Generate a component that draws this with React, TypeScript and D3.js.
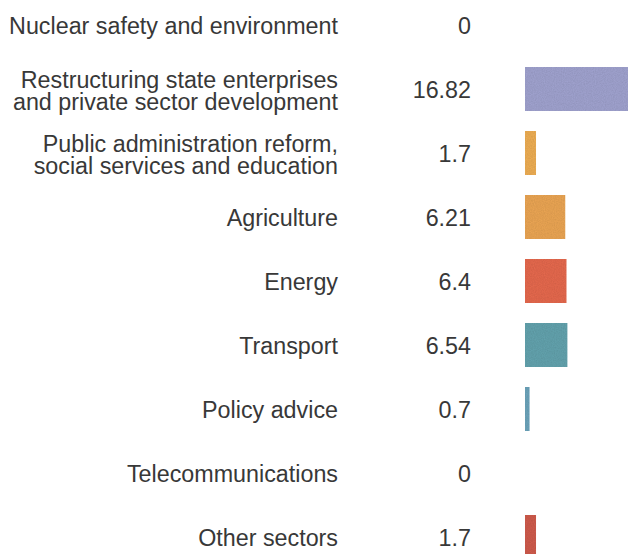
import React, { useEffect, useRef } from "react";
import * as d3 from "d3";

const sectors = [
  ["Nuclear safety and environment"],
  ["Restructuring state enterprises", "and private sector development"],
  ["Public administration reform,", "social services and education"],
  ["Agriculture"],
  ["Energy"],
  ["Transport"],
  ["Policy advice"],
  ["Telecommunications"],
  ["Other sectors"],
];
const values = [0, 16.82, 1.7, 6.21, 6.4, 6.54, 0.7, 0, 1.7];
const valueLabels = ["0", "16.82", "1.7", "6.21", "6.4", "6.54", "0.7", "0", "1.7"];
const colors = [
  "#9ea0cc",
  "#9ea0cc",
  "#eaab52",
  "#e7a352",
  "#e2674e",
  "#62a0ab",
  "#6ba1b8",
  "#9ea0cc",
  "#cc5a4c",
];

const width = 628;
const height = 554;

export default function App() {
  const ref = useRef<SVGSVGElement>(null);

  useEffect(() => {
    const svg = d3.select(ref.current);

    // light grain like the printed original
    const filter = svg
      .append("defs")
      .append("filter")
      .attr("id", "grain")
      .attr("x", 0)
      .attr("y", 0)
      .attr("width", 1)
      .attr("height", 1);
    filter
      .append("feTurbulence")
      .attr("type", "fractalNoise")
      .attr("baseFrequency", 0.9)
      .attr("numOctaves", 2)
      .attr("result", "noise");
    filter
      .append("feColorMatrix")
      .attr("in", "noise")
      .attr("type", "matrix")
      .attr("values", "0 0 0 0 0  0 0 0 0 0  0 0 0 0 0  0 0 0 0.25 -0.06")
      .attr("result", "dots");
    filter
      .append("feComposite")
      .attr("in", "dots")
      .attr("in2", "SourceGraphic")
      .attr("operator", "in")
      .attr("result", "dotsIn");
    const merge = filter.append("feMerge");
    merge.append("feMergeNode").attr("in", "SourceGraphic");
    merge.append("feMergeNode").attr("in", "dotsIn");

    const y = d3
      .scaleBand()
      .domain(d3.range(sectors.length).map(String))
      .range([-7, 569])
      .paddingInner(0.3125)
      .paddingOuter(0.15625);
    const x = d3.scaleLinear().domain([0, 16.82]).range([525, 634]);

    const font = "'Liberation Sans', Arial, Helvetica, sans-serif";
    const rows = svg
      .append("g")
      .selectAll("g")
      .data(values.map((v, i) => ({ v, i })))
      .join("g")
      .attr("transform", (d) => `translate(0,${y(String(d.i))! + y.bandwidth() / 2})`);

    rows
      .append("rect")
      .attr("x", x(0))
      .attr("y", -y.bandwidth() / 2)
      .attr("width", (d) => x(d.v) - x(0))
      .attr("height", y.bandwidth())
      .attr("fill", (d) => colors[d.i])
      .attr("filter", "url(#grain)");

    const lineGap = 22.3;
    rows
      .append("text")
      .attr("x", 338)
      .attr("text-anchor", "end")
      .attr("font-family", font)
      .attr("font-size", 23.3)
      .attr("fill", "#383838")
      .selectAll("tspan")
      .data((d) => sectors[d.i].map((t, k, arr) => ({ t, k, n: arr.length })))
      .join("tspan")
      .attr("x", 338)
      .attr("y", (d) => (d.k - (d.n - 1) / 2) * lineGap + (d.n > 1 ? 10 : 8.5))
      .text((d) => d.t);

    rows
      .append("text")
      .attr("x", 471)
      .attr("y", 8.5)
      .attr("text-anchor", "end")
      .attr("font-family", font)
      .attr("font-size", 23.3)
      .attr("fill", "#383838")
      .text((d) => valueLabels[d.i]);

    return () => {
      svg.selectAll("*").remove();
    };
  }, []);

  return (
    <svg
      ref={ref}
      width={width}
      height={height}
      style={{ position: "absolute", left: 0, top: 0, background: "#fff" }}
    />
  );
}
